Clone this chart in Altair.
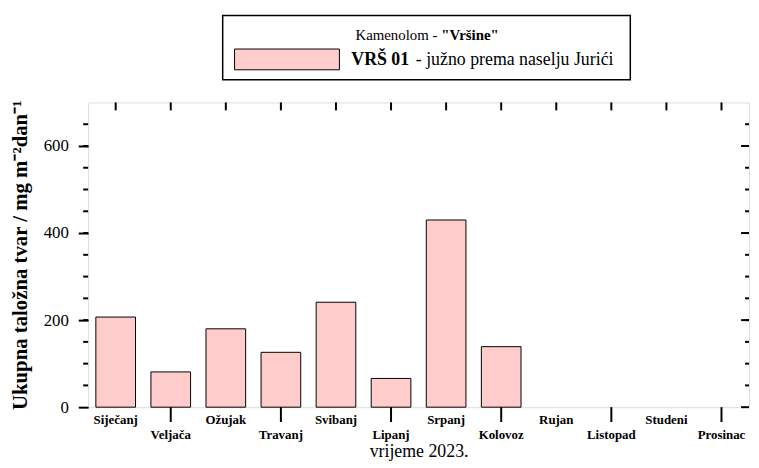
import altair as alt
import pandas as pd

# ---- data ----
mjeseci = ["Siječanj", "Veljača", "Ožujak", "Travanj", "Svibanj", "Lipanj",
           "Srpanj", "Kolovoz", "Rujan", "Listopad", "Studeni", "Prosinac"]
vrijednosti = [207, 81, 180, 126, 241, 66, 430, 139, None, None, None, None]
glavne_oznake = [0, 200, 400, 600]
sporedne_oznake = [50, 100, 150, 200, 250, 300, 350, 400, 450, 500, 550, 600, 650]

legenda_naslov_1 = "Kamenolom -"
legenda_naslov_2 = "\"Vršine\""
legenda_oznaka_1 = "VRŠ 01"
legenda_oznaka_2 = "- južno prema naselju Jurići"
y_naslov = "Ukupna taložna tvar / mg m⁻²dan⁻¹"
x_naslov = "vrijeme 2023."

W, H = 668, 308
FONT = "Liberation Serif"
PINK = "#FFCCCC"

df = pd.DataFrame({"mjesec": mjeseci, "vrijednost": vrijednosti})
df_bars = df.dropna()
df_months = pd.DataFrame({"mjesec": mjeseci})
df_even = pd.DataFrame({"mjesec": mjeseci[1::2]})
df_minor = pd.DataFrame({"vrijednost": sporedne_oznake})
df_major = pd.DataFrame({"vrijednost": glavne_oznake})
one = pd.DataFrame({"a": [0]})

x_scale = alt.Scale(domain=mjeseci, paddingInner=0.28, paddingOuter=0.14)
y_scale = alt.Scale(domain=[0, 700], nice=False, zero=True)

even_list = "[" + ",".join("'" + m + "'" for m in mjeseci[1::2]) + "]"

x_axis = alt.Axis(
    title=x_naslov, titleFont=FONT, titleFontSize=18, titleFontWeight="normal",
    titleColor="black", titleX=W / 2, titleY=50, titleBaseline="alphabetic",
    titleAlign="center",
    labelFont=FONT, labelFontSize=13, labelFontWeight="bold", labelColor="black",
    labelAngle=0, labelOverlap=False, labelBaseline="top",
    labelPadding={"condition": {"test": f"indexof({even_list}, datum.value) >= 0",
                                "value": 22}, "value": 7},
    ticks=False, domain=False, grid=False,
)
y_axis = alt.Axis(
    title=y_naslov, titleFont=FONT, titleFontSize=21, titleFontWeight="bold",
    titleColor="black", titleAngle=270, titleX=-68, titleY=H / 2,
    titleAlign="center", titleBaseline="middle",
    values=glavne_oznake, labelFont=FONT, labelFontSize=17, labelColor="black",
    labelPadding=10, tickSize=10, tickWidth=2, tickColor="black",
    domain=False, grid=False,
)

bars = alt.Chart(df_bars).mark_bar(fill=PINK, stroke="black", strokeWidth=1).encode(
    x=alt.X("mjesec:N", scale=x_scale, axis=x_axis, sort=mjeseci),
    y=alt.Y("vrijednost:Q", scale=y_scale, axis=y_axis),
)

top_ticks = alt.Chart(df_months).mark_rule(color="black", strokeWidth=2).encode(
    x=alt.X("mjesec:N", sort=mjeseci), y=alt.value(0), y2=alt.value(8)
)
bottom_ticks = alt.Chart(df_even).mark_rule(color="black", strokeWidth=2).encode(
    x=alt.X("mjesec:N", sort=mjeseci), y=alt.value(H), y2=alt.value(H + 15)
)
left_minor = alt.Chart(df_minor).mark_rule(color="black", strokeWidth=2).encode(
    y=alt.Y("vrijednost:Q"), x=alt.value(-5), x2=alt.value(0)
)
right_minor = alt.Chart(df_minor).mark_rule(color="black", strokeWidth=2).encode(
    y=alt.Y("vrijednost:Q"), x=alt.value(W - 4), x2=alt.value(W)
)
right_major = alt.Chart(df_major).mark_rule(color="black", strokeWidth=2).encode(
    y=alt.Y("vrijednost:Q"), x=alt.value(W - 8), x2=alt.value(W)
)

# ---- legend (manual, for mixed bold text) ----
LX0, LX1, LY0, LY1 = 136, 548, -88, -23
leg_box = alt.Chart(one).mark_rect(fill="white", stroke="black", strokeWidth=1.5).encode(
    x=alt.value(LX0), x2=alt.value(LX1), y=alt.value(LY0), y2=alt.value(LY1)
)
leg_swatch = alt.Chart(one).mark_rect(fill=PINK, stroke="black", strokeWidth=1).encode(
    x=alt.value(148), x2=alt.value(254), y=alt.value(-54), y2=alt.value(-33)
)
leg_t1 = alt.Chart(one).mark_text(font=FONT, fontSize=15, align="right",
                                  baseline="alphabetic", color="black").encode(
    x=alt.value(353), y=alt.value(-63), text=alt.value(legenda_naslov_1))
leg_t2 = alt.Chart(one).mark_text(font=FONT, fontSize=15, fontWeight="bold", align="left",
                                  baseline="alphabetic", color="black").encode(
    x=alt.value(357), y=alt.value(-63), text=alt.value(legenda_naslov_2))
leg_l1 = alt.Chart(one).mark_text(font=FONT, fontSize=18, fontWeight="bold", align="left",
                                  baseline="alphabetic", color="black").encode(
    x=alt.value(266), y=alt.value(-38), text=alt.value(legenda_oznaka_1))
leg_l2 = alt.Chart(one).mark_text(font=FONT, fontSize=18, align="right",
                                  baseline="alphabetic", color="black").encode(
    x=alt.value(531), y=alt.value(-38), text=alt.value(legenda_oznaka_2))

chart = alt.layer(
    bars, top_ticks, bottom_ticks, left_minor, right_minor, right_major,
    leg_box, leg_swatch, leg_t1, leg_t2, leg_l1, leg_l2,
).properties(
    width=W, height=H,
    autosize=alt.AutoSizeParams(type="none"),
    padding={"left": 81, "top": 93, "right": 2, "bottom": 58},
).configure_view(
    stroke="black", strokeWidth=2
).configure_axis(
    labelFont=FONT, titleFont=FONT, labelColor="black", titleColor="black"
).configure_axisX(
    labelFontWeight="bold", labelFontSize=13
).configure_axisY(
    labelFontSize=17
).configure(background="white")

chart.save("out.html", embed_options={"renderer": "svg", "actions": False})
